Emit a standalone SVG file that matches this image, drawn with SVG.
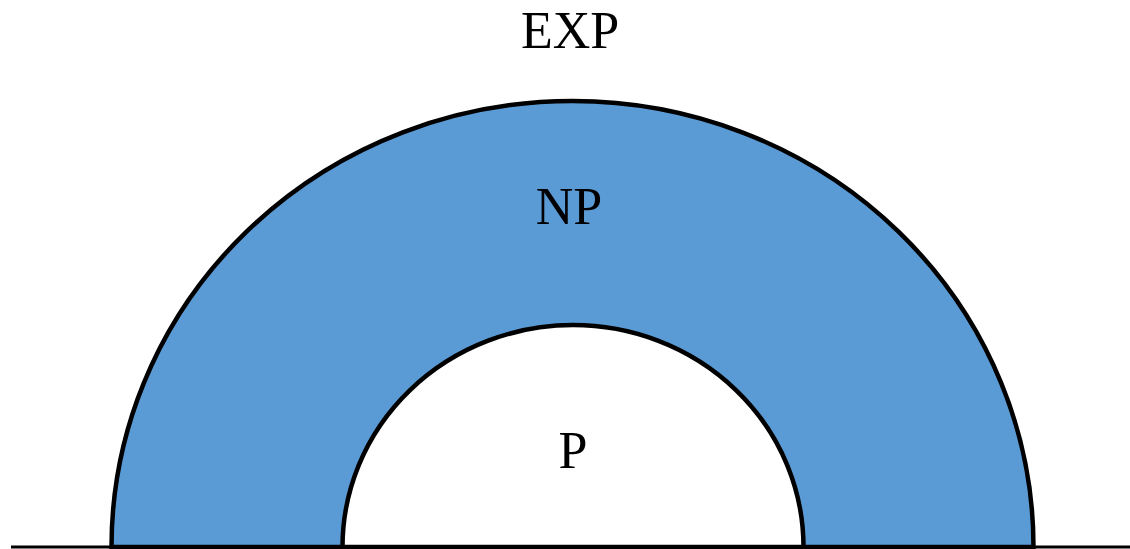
<svg xmlns="http://www.w3.org/2000/svg" width="1130" height="549" viewBox="0 0 1130 549">
<style>
.lbl{font-family:"Times New Roman","Liberation Serif",serif;font-size:52px;fill:#000;text-anchor:middle}
.rg{stroke:#000;stroke-width:4.5}
</style>
<rect width="1130" height="549" fill="#fff"/>
<g id="EXP">
<text class="lbl" x="570" y="48">EXP</text>
</g>
<g id="NP">
<path class="rg" fill="#5B9BD5" d="M111.5 547 A461 446 0 0 1 1033.5 547 Z"/>
<text class="lbl" x="569" y="224">NP</text>
</g>
<g id="P">
<path class="rg" fill="#fff" d="M342.5 547 A230.5 222 0 0 1 803.5 547 Z"/>
<text class="lbl" x="573" y="468">P</text>
</g>
<g id="connectors">
<line x1="11" y1="547" x2="1130" y2="547" stroke="#000" stroke-width="3"/>
</g>
</svg>
